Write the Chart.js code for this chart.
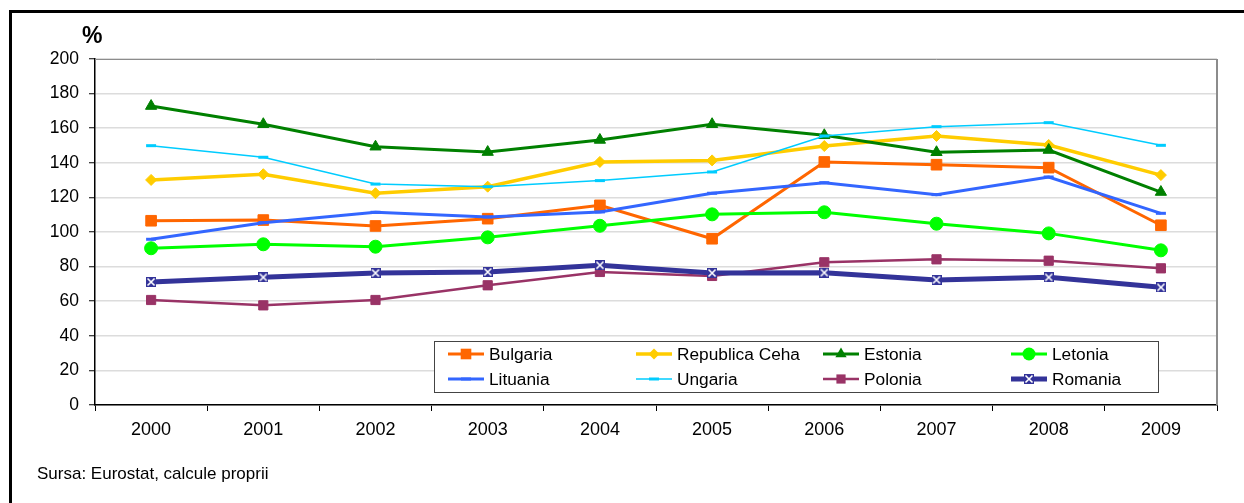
<!DOCTYPE html>
<html lang="ro">
<head>
<meta charset="utf-8">
<title>Indici 2000-2009</title>
<script src="https://cdn.jsdelivr.net/npm/chart.js@4.4.1/dist/chart.umd.min.js"></script>
<style>
  html, body { margin: 0; padding: 0; background: #fff; }
  body { width: 1244px; height: 503px; position: relative; overflow: hidden; font-family: "Liberation Sans", Arial, sans-serif; }
  #frame { position: absolute; left: 9px; top: 10px; width: 1300px; height: 600px; border-left: 3px solid #000; border-top: 3px solid #000; box-sizing: border-box; }
  #chart { position: absolute; left: 0; top: 0; }
  #unit { position: absolute; left: 82px; top: 23px; font-size: 23px; font-weight: bold; line-height: 25px; color: #000; }
  #source { position: absolute; left: 37px; top: 464px; font-size: 17px; line-height: 19px; color: #000; }
</style>
</head>
<body>
<div id="frame"></div>
<canvas id="chart" width="1244" height="503"></canvas>
<div id="unit">%</div>
<div id="source">Sursa: Eurostat, calcule proprii</div>
<script>
// Years on the category axis
const years = ['2000', '2001', '2002', '2003', '2004', '2005', '2006', '2007', '2008', '2009'];

// Series values (%)
const bulgaria = [106.5, 106.9, 103.5, 107.7, 115.4, 96.1, 140.5, 138.9, 137.2, 103.9];
const republicaCeha = [130.1, 133.4, 122.4, 126.2, 140.5, 141.4, 149.7, 155.5, 150.3, 132.9];
const estonia = [172.8, 162.3, 149.3, 146.2, 153.2, 162.3, 155.9, 146.1, 147.4, 123.1];
const letonia = [90.6, 92.9, 91.5, 96.9, 103.6, 110.2, 111.4, 104.8, 99.2, 89.4];
const lituania = [95.8, 105.4, 111.4, 108.7, 111.6, 122.4, 128.5, 121.6, 131.8, 110.8];
const ungaria = [149.9, 143.2, 127.7, 126.2, 129.7, 134.7, 155.5, 160.9, 163.2, 150.1];
const polonia = [60.7, 57.6, 60.7, 69.2, 76.9, 74.6, 82.5, 84.2, 83.4, 79.0];
const romania = [71.1, 73.8, 76.3, 76.9, 80.8, 76.3, 76.5, 72.3, 73.8, 68.0];

// Y axis range
const yMin = 0;
const yMax = 200;
const yStep = 20;

// Navy square with a white cross, used as the Romania marker
function crossMarker(size, fill) {
  const c = document.createElement('canvas');
  c.width = size; c.height = size;
  const g = c.getContext('2d');
  g.fillStyle = fill;
  g.fillRect(0, 0, size, size);
  g.strokeStyle = '#fff';
  g.lineWidth = 1.6;
  g.beginPath();
  g.moveTo(1.5, 1.5); g.lineTo(size - 1.5, size - 1.5);
  g.moveTo(size - 1.5, 1.5); g.lineTo(1.5, size - 1.5);
  g.stroke();
  return c;
}
const romaniaMarker = crossMarker(10, '#333399');

function series(label, data, color, width, style, radius, extra) {
  return Object.assign({
    label: label,
    data: data,
    borderColor: color,
    backgroundColor: color,
    borderWidth: width,
    pointStyle: style,
    pointRadius: radius,
    pointHoverRadius: radius,
    pointBackgroundColor: color,
    pointBorderColor: color,
    pointBorderWidth: 1,
    tension: 0,
    fill: false
  }, extra || {});
}

const datasets = [
  series('Bulgaria', bulgaria, '#FF6600', 3, 'rect', 7.5),
  series('Republica Ceha', republicaCeha, '#FFCC00', 3.5, 'rectRot', 5.5),
  series('Estonia', estonia, '#008000', 3, 'triangle', 6.5),
  series('Letonia', letonia, '#00FF00', 3, 'circle', 6.5),
  series('Lituania', lituania, '#3366FF', 3, 'line', 5, { pointBorderWidth: 3 }),
  series('Ungaria', ungaria, '#00CCFF', 1.5, 'line', 5, { pointBorderWidth: 3 }),
  series('Polonia', polonia, '#993366', 2.5, 'rect', 6.5),
  series('Romania', romania, '#333399', 5, romaniaMarker, 5)
];
// later series are drawn on top
datasets.forEach((d, i) => { d.order = datasets.length - 1 - i; });

// Draws one legend marker
function drawMarker(ctx, ds, x, y) {
  const st = ds.pointStyle, r = ds.pointRadius;
  ctx.save();
  ctx.fillStyle = ds.pointBackgroundColor;
  ctx.strokeStyle = ds.pointBorderColor;
  ctx.lineWidth = ds.pointBorderWidth;
  if (st instanceof HTMLCanvasElement) {
    ctx.drawImage(st, x - st.width / 2, y - st.height / 2);
  } else if (st === 'rect') {
    const s = Math.SQRT1_2 * r;
    ctx.fillRect(x - s, y - s, 2 * s, 2 * s);
  } else if (st === 'rectRot') {
    ctx.beginPath();
    ctx.moveTo(x, y - r); ctx.lineTo(x + r, y); ctx.lineTo(x, y + r); ctx.lineTo(x - r, y);
    ctx.closePath(); ctx.fill();
  } else if (st === 'triangle') {
    ctx.beginPath();
    for (let k = 0; k < 3; k++) {
      const a = k * 2 * Math.PI / 3;
      const px = x + Math.sin(a) * r, py = y - Math.cos(a) * r;
      if (k === 0) ctx.moveTo(px, py); else ctx.lineTo(px, py);
    }
    ctx.closePath(); ctx.fill();
  } else if (st === 'circle') {
    ctx.beginPath(); ctx.arc(x, y, r, 0, Math.PI * 2); ctx.fill();
  } else if (st === 'line') {
    ctx.beginPath(); ctx.moveTo(x - r, y); ctx.lineTo(x + r, y); ctx.stroke();
  }
  ctx.restore();
}

// Boxed legend in four columns inside the plot area
const boxedLegend = {
  id: 'boxedLegend',
  afterDraw(chart) {
    const ctx = chart.ctx;
    const box = { x: 434.5, y: 341.5, w: 724, h: 51 };
    const colX = [448, 636, 823, 1011];
    const rowY = [354, 379];
    ctx.save();
    ctx.fillStyle = '#fff';
    ctx.fillRect(box.x, box.y, box.w, box.h);
    ctx.strokeStyle = '#444';
    ctx.lineWidth = 1;
    ctx.strokeRect(box.x, box.y, box.w, box.h);
    ctx.font = '17.3px "Liberation Sans", Arial, sans-serif';
    ctx.textBaseline = 'middle';
    ctx.textAlign = 'left';
    chart.data.datasets.forEach((ds, i) => {
      const x = colX[i % 4], y = rowY[Math.floor(i / 4)];
      ctx.strokeStyle = ds.borderColor;
      ctx.lineWidth = ds.borderWidth;
      ctx.beginPath(); ctx.moveTo(x, y); ctx.lineTo(x + 36, y); ctx.stroke();
      drawMarker(ctx, ds, x + 18, y);
      ctx.fillStyle = '#000';
      ctx.fillText(ds.label, x + 41, y + 1);
    });
    ctx.restore();
  }
};

// Grey edge along the top and right of the plot area
const plotEdge = {
  id: 'plotEdge',
  beforeDatasetsDraw(chart) {
    const { ctx, chartArea: a } = chart;
    ctx.save();
    ctx.strokeStyle = '#8c8c8c';
    ctx.lineWidth = 1;
    ctx.beginPath(); ctx.moveTo(a.left, a.top + 0.5); ctx.lineTo(a.right, a.top + 0.5); ctx.stroke();
    ctx.lineWidth = 2;
    ctx.beginPath(); ctx.moveTo(a.right, a.top); ctx.lineTo(a.right, a.bottom); ctx.stroke();
    ctx.restore();
  }
};

new Chart(document.getElementById('chart'), {
  type: 'line',
  data: { labels: years, datasets: datasets },
  options: {
    responsive: false,
    animation: false,
    events: [],
    layout: { padding: { left: 0, top: 59, right: 27, bottom: 0 } },
    plugins: { legend: { display: false }, tooltip: { enabled: false }, title: { display: false } },
    scales: {
      x: {
        type: 'category',
        offset: true,
        grid: { display: true, drawOnChartArea: false, offset: true, tickLength: 6, tickColor: '#000', tickWidth: 1 },
        border: { display: true, color: '#000', width: 1.5 },
        ticks: { color: '#000', padding: 8, font: { family: '"Liberation Sans", Arial, sans-serif', size: 18 }, maxRotation: 0, autoSkip: false },
        afterFit(scale) { scale.height = 98; scale.paddingLeft = 0; scale.paddingRight = 0; }
      },
      y: {
        min: yMin,
        max: yMax,
        grid: { color: '#dcdcdc', lineWidth: 1.5, tickLength: 6, tickColor: '#000', tickWidth: 1 },
        border: { display: true, color: '#000', width: 1.5 },
        ticks: { stepSize: yStep, color: '#000', padding: 10, font: { family: '"Liberation Sans", Arial, sans-serif', size: 17.5 } },
        afterFit(scale) { scale.width = 95; scale.paddingTop = 0; scale.paddingBottom = 0; }
      }
    }
  },
  plugins: [plotEdge, boxedLegend]
});
</script>
</body>
</html>
